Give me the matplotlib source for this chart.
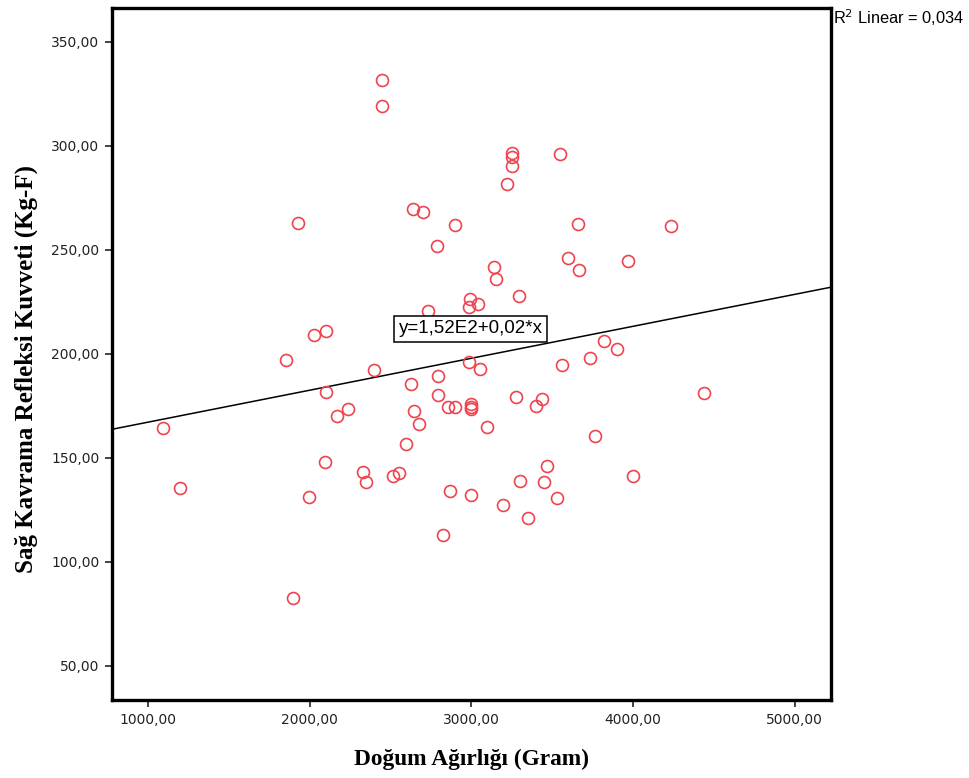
import numpy as np
import matplotlib.pyplot as plt

# birth weight (g) vs right hand grip reflex (kg-F)
dogum = [1095, 1200, 1857, 1928, 1899, 1998, 2029, 2100, 2099, 2094,
         2170, 2238, 2331, 2348, 2399, 2449, 2449, 2519, 2552, 2599,
         2628, 2639, 2647, 2676, 2701, 2732, 2789, 2797, 2797, 2826,
         2857, 2868, 2899, 2899, 2985, 2995, 2989, 3043, 3057, 2999,
         2999, 2999, 3099, 2999, 3140, 3150, 3199, 3218, 3249, 3249,
         3249, 3277, 3298, 3299, 3349, 3399, 3440, 3448, 3470, 3533,
         3550, 3558, 3600, 3658, 3668, 3735, 3768, 3818, 3898, 3970,
         4001, 4236, 4440]
kuvvet = [164.2, 135.4, 197.0, 262.7, 82.6, 131.0, 209.0, 210.7, 181.7, 148.1,
          170.2, 173.4, 143.0, 138.5, 192.1, 331.7, 318.9, 141.2, 142.6, 156.4,
          185.3, 269.6, 172.3, 166.2, 268.0, 220.7, 251.6, 189.4, 180.3, 112.8,
          174.2, 134.2, 261.7, 174.2, 196.2, 226.2, 222.5, 223.9, 192.5, 175.8,
          174.5, 173.3, 165.0, 132.2, 241.5, 236.0, 127.1, 281.8, 296.3, 294.4,
          290.2, 179.4, 227.9, 139.0, 120.9, 174.7, 178.4, 138.1, 146.0, 130.7,
          296.0, 194.6, 245.8, 262.5, 240.5, 198.0, 160.3, 206.1, 202.4, 244.7,
          141.2, 261.5, 181.0]

# fit line as drawn
fit_a = 151.7
fit_b = 0.01537

xticks = [1000, 2000, 3000, 4000, 5000]
yticks = [50, 100, 150, 200, 250, 300, 350]
xlim = (779, 5224)
ylim = (33.5, 366.1)

fig = plt.figure(figsize=(9.7, 7.78), dpi=100)
ax = fig.add_axes([112/970, 1-700/778, (831-112)/970, (700-8.3)/778])

ax.plot(dogum, kuvvet, 'o', mfc='none', mec='#ee4450', ms=8.6, mew=1.2, zorder=3)

xx = np.array(xlim)
ax.plot(xx, fit_a + fit_b*xx, color='black', lw=1.1, zorder=2)

ax.text(2996, 211.9, 'y=1,52E2+0,02*x', fontsize=13.5, family='Liberation Sans',
        ha='center', va='center',
        bbox=dict(boxstyle='square,pad=0.22', fc='white', ec='black', lw=1.1), zorder=4)

fig.text(833/970, 1-18/778, 'R$^2$ Linear = 0,034', fontsize=11.8, family='Liberation Sans',
         ha='left', va='center')

ax.set_xlim(xlim)
ax.set_ylim(ylim)
ax.set_xticks(xticks)
ax.set_yticks(yticks)
ax.set_xticklabels(['%d,00' % v for v in xticks])
ax.set_yticklabels(['%d,00' % v for v in yticks])
ax.tick_params(direction='out', length=5, width=1.2, labelsize=10, colors='#222222', pad=4)

for s in ax.spines.values():
    s.set_linewidth(2.4)
    s.set_color('black')

ax.set_xlabel('Doğum Ağırlığı (Gram)', family='Liberation Serif', fontweight='bold',
              fontsize=16.8, labelpad=16)
ax.set_ylabel('Sağ Kavrama Refleksi Kuvveti (Kg-F)', family='Liberation Serif',
              fontweight='bold', fontsize=18)
ax.yaxis.set_label_coords(-0.103, 0.4785)

fig.savefig('out.png', dpi=100)
